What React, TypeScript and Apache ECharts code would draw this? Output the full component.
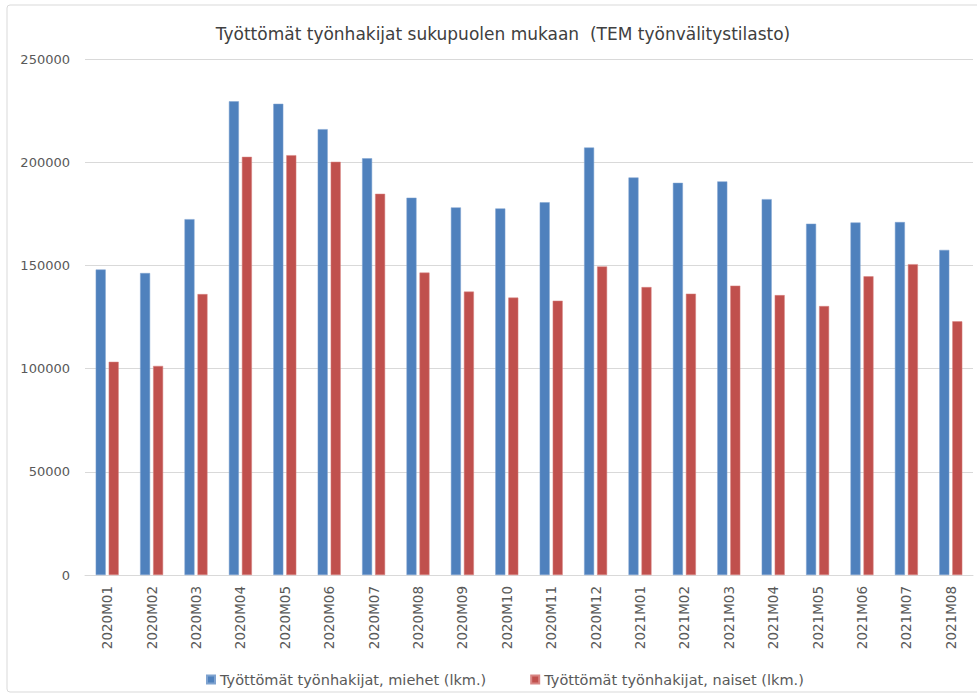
import React, { useEffect, useRef } from "react";
import * as echarts from "echarts";

const categories = [
  "2020M01", "2020M02", "2020M03", "2020M04", "2020M05", "2020M06", "2020M07",
  "2020M08", "2020M09", "2020M10", "2020M11", "2020M12", "2021M01", "2021M02",
  "2021M03", "2021M04", "2021M05", "2021M06", "2021M07", "2021M08",
];

const miehet = [
  148000, 146300, 172400, 229500, 228300, 216000, 201900, 182800, 178100, 177600,
  180600, 207100, 192600, 190000, 190700, 182100, 170200, 170800, 171000, 157500,
];

const naiset = [
  103300, 101300, 136100, 202600, 203400, 200200, 184700, 146500, 137300, 134400,
  132900, 149500, 139500, 136300, 140200, 135600, 130300, 144700, 150600, 122900,
];

const titleText = "Työttömät työnhakijat sukupuolen mukaan  (TEM työnvälitystilasto)";
const seriesNames = [
  "Työttömät työnhakijat, miehet (lkm.)",
  "Työttömät työnhakijat, naiset (lkm.)",
];

const FONT = "DejaVu Sans";

export default function App() {
  const ref = useRef<HTMLDivElement>(null);
  useEffect(() => {
    if (!ref.current) return;
    const chart = echarts.init(ref.current, null, { renderer: "svg" });
    chart.setOption({
      animation: false,
      backgroundColor: "#ffffff",
      title: {
        text: titleText,
        left: 498,
        textAlign: "center",
        top: 20,
        textStyle: { fontFamily: FONT, fontSize: 17, fontWeight: "normal", color: "#404040" },
      },
      graphic: [
        {
          type: "rect",
          shape: { x: 7, y: 5, width: 985, height: 687, r: 3 },
          style: { fill: "none", stroke: "#d9d9d9", lineWidth: 1 },
          silent: true,
        },
      ],
      legend: {
        top: 667,
        left: 201,
        itemWidth: 8,
        itemHeight: 8,
        itemGap: 44,
        icon: "rect",
        textStyle: { fontFamily: FONT, fontSize: 14.5, color: "#595959" },
        data: seriesNames,
      },
      grid: { left: 85, right: 4, top: 59, bottom: 118, containLabel: false },
      xAxis: {
        type: "category",
        data: categories,
        axisTick: { show: false },
        axisLine: { lineStyle: { color: "#d9d9d9" } },
        axisLabel: {
          rotate: 90,
          margin: 11,
          fontFamily: FONT,
          fontSize: 13.5,
          color: "#595959",
        },
      },
      yAxis: {
        type: "value",
        min: 0,
        max: 250000,
        interval: 50000,
        axisLine: { show: false },
        axisTick: { show: false },
        splitLine: { lineStyle: { color: "#d9d9d9", width: 1 } },
        axisLabel: {
          margin: 15,
          fontFamily: FONT,
          fontSize: 13,
          color: "#595959",
          formatter: (v: number) => String(v),
        },
      },
      series: [
        {
          name: seriesNames[0],
          type: "bar",
          data: miehet,
          barWidth: 10,
          barGap: "30%",
          itemStyle: { color: "#4F81BD", borderColor: "#7fa3d0", borderWidth: 0.5 },
        },
        {
          name: seriesNames[1],
          type: "bar",
          data: naiset,
          barWidth: 10,
          barGap: "30%",
          itemStyle: { color: "#C0504D", borderColor: "#d88583", borderWidth: 0.5 },
        },
      ],
    });
    return () => chart.dispose();
  }, []);
  return (
    <div style={{ position: "fixed", left: 0, top: 0, width: 977, height: 693, background: "#fff" }}>
      <div ref={ref} style={{ width: 977, height: 693 }} />
    </div>
  );
}
